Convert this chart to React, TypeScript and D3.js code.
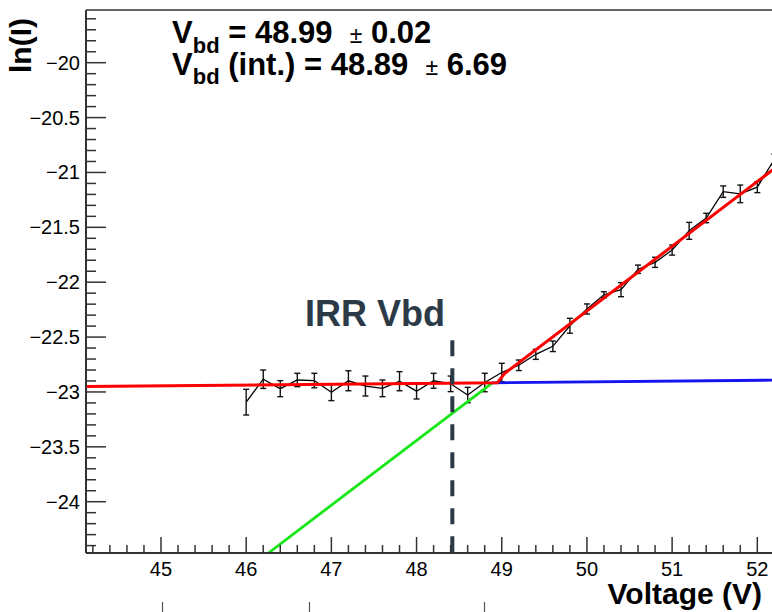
import React from 'react';
import * as d3 from 'd3';

// ---- data ----
const voltage = [46.0, 46.2, 46.4, 46.6, 46.8, 47.0, 47.2, 47.4, 47.6, 47.8, 48.0, 48.2, 48.4, 48.6, 48.8, 49.0, 49.2, 49.4, 49.6, 49.8, 50.0, 50.2, 50.4, 50.6, 50.8, 51.0, 51.2, 51.4, 51.6, 51.8, 52.0, 52.2];
const lnI = [-23.093, -22.884, -22.970, -22.891, -22.896, -23.003, -22.898, -22.946, -22.967, -22.902, -22.993, -22.898, -22.926, -23.028, -22.914, -22.823, -22.757, -22.657, -22.584, -22.397, -22.244, -22.114, -22.068, -21.882, -21.819, -21.707, -21.532, -21.415, -21.175, -21.195, -21.134, -20.882];
const lnIErr = [0.117, 0.084, 0.073, 0.061, 0.066, 0.076, 0.091, 0.091, 0.076, 0.087, 0.071, 0.068, 0.071, 0.070, 0.084, 0.084, 0.048, 0.046, 0.048, 0.068, 0.046, 0.027, 0.064, 0.038, 0.046, 0.046, 0.077, 0.043, 0.052, 0.080, 0.050, 0.050];

// fit parameters (flat pre-breakdown line, linear post-breakdown line)
const flatFit = { a: -22.951, b: 0.00724, v0: 44.12 };
const linFit = { a: -21.007, b: 0.5897, v0: 52.129 };
const vbd = 48.99;
const vbdInt = 48.89;
const irrVbd = 48.42;
const irrLineTop = -22.53;

const xMajorTicks = [45, 46, 47, 48, 49, 50, 51, 52];
const yMajorTicks = [-24, -23.5, -23, -22.5, -22, -21.5, -21, -20.5, -20];
const xMinorStep = 0.2;
const yMinorStep = 0.1;

const vbdText = ['48.99', '0.02'];
const vbdIntText = ['48.89', '6.69'];

const W = 772;
const H = 612;
const L = 86, R = 772, T = 10, B = 553;

const xDomain = [44.1196, 52.1725];
const yDomain = [-24.4674, -19.5198];

const FONT = "'Liberation Sans', Arial, Helvetica, sans-serif";

function flat(v: number) { return flatFit.a + flatFit.b * (v - flatFit.v0); }
function lin(v: number) { return linFit.a + linFit.b * (v - linFit.v0); }
const fmt = (v: number) => (v < 0 ? '\u2212' : '') + Math.abs(v).toString();

export default function App() {
  const x = d3.scaleLinear().domain(xDomain).range([L, R]);
  const y = d3.scaleLinear().domain(yDomain).range([B, T]);

  const xMinor = d3.range(Math.ceil(xDomain[0] / xMinorStep) * xMinorStep, xDomain[1], xMinorStep)
    .filter(v => !xMajorTicks.some(m => Math.abs(m - v) < 1e-6));
  const yMinor = d3.range(Math.ceil(yDomain[0] / yMinorStep) * yMinorStep, yDomain[1], yMinorStep)
    .filter(v => !yMajorTicks.some(m => Math.abs(m - v) < 1e-6));

  const line = d3.line<[number, number]>().x(d => x(d[0])).y(d => y(d[1]));
  const vBottom = linFit.v0 + (yDomain[0] - linFit.a) / linFit.b;

  const redPts: [number, number][] = [
    [xDomain[0], flat(xDomain[0])],
    [vbd - 0.04, flat(vbd - 0.04)],
    [vbd + 0.04, lin(vbd + 0.04)],
    [xDomain[1] + 0.05, lin(xDomain[1] + 0.05)],
  ];
  const bluePts: [number, number][] = [[vbdInt, flat(vbdInt)], [xDomain[1] + 0.05, flat(xDomain[1] + 0.05)]];
  const greenPts: [number, number][] = [[vBottom, lin(vBottom)], [vbdInt, lin(vbdInt)]];
  const dataPts: [number, number][] = voltage.map((v, i) => [v, lnI[i]]);

  return (
    <svg width={W} height={H} style={{ position: 'absolute', left: 0, top: 0, background: '#fff' }} fontFamily={FONT}>
      <defs>
        <clipPath id="frame"><rect x={L} y={T} width={R - L} height={B - T} /></clipPath>
      </defs>
      <rect x={0} y={0} width={W} height={H} fill="#fff" />

      {/* data */}
      <g clipPath="url(#frame)">
        <path d={line(dataPts) || ''} fill="none" stroke="#000" strokeWidth={1.3} />
        {voltage.map((v, i) => {
          const cx = x(v);
          const y1 = y(lnI[i] - lnIErr[i]);
          const y2 = y(lnI[i] + lnIErr[i]);
          return (
            <g key={i} stroke="#111" strokeWidth={1.4}>
              <line x1={cx} x2={cx} y1={y1} y2={y2} />
              <line x1={cx - 3} x2={cx + 3} y1={y1} y2={y1} />
              <line x1={cx - 3} x2={cx + 3} y1={y2} y2={y2} />
            </g>
          );
        })}
        <path d={line(bluePts) || ''} fill="none" stroke="#1414f0" strokeWidth={2.8} />
        <path d={line(greenPts) || ''} fill="none" stroke="#17e617" strokeWidth={2.8} />
        <path d={line(redPts) || ''} fill="none" stroke="#ff0000" strokeWidth={3} />
        <line x1={x(irrVbd)} x2={x(irrVbd)} y1={y(irrLineTop)} y2={B} stroke="#2c3a48" strokeWidth={4} strokeDasharray="16 12" />
      </g>

      {/* frame / axes */}
      <line x1={L} x2={W} y1={T} y2={T} stroke="#666" strokeWidth={2} />
      <line x1={L} x2={L} y1={T} y2={B} stroke="#333" strokeWidth={2} />
      <line x1={L} x2={W} y1={B} y2={B} stroke="#333" strokeWidth={2} />

      {/* x ticks */}
      {xMajorTicks.map(v => (
        <g key={'xM' + v}>
          <line x1={x(v)} x2={x(v)} y1={B} y2={B - 16} stroke="#333" strokeWidth={1.5} />
          <text x={x(v)} y={576} textAnchor="middle" fontSize={20} fill="#000">{fmt(v)}</text>
        </g>
      ))}
      {xMinor.map(v => (
        <line key={'xm' + v} x1={x(v)} x2={x(v)} y1={B} y2={B - 8} stroke="#333" strokeWidth={1.5} />
      ))}

      {/* y ticks */}
      {yMajorTicks.map(v => (
        <g key={'yM' + v}>
          <line x1={L} x2={L + 20} y1={y(v)} y2={y(v)} stroke="#333" strokeWidth={1.5} />
          <text x={80} y={y(v) + 7} textAnchor="end" fontSize={20} fill="#000">{fmt(v)}</text>
        </g>
      ))}
      {yMinor.map(v => (
        <line key={'ym' + v} x1={L} x2={L + 10} y1={y(v)} y2={y(v)} stroke="#333" strokeWidth={1.5} />
      ))}

      {/* axis titles */}
      <text x={762} y={604} textAnchor="end" fontSize={30} fontWeight="bold" fill="#000">Voltage (V)</text>
      <text transform="translate(30.5,18) rotate(-90)" textAnchor="end" fontSize={30} fontWeight="bold" fill="#000">ln(I)</text>

      {/* annotation */}
      <text x={172} y={43} fontSize={31} fontWeight="bold" fill="#000" style={{ whiteSpace: 'pre' }}>
        V<tspan dy={9.5} fontSize={22}>bd</tspan><tspan dy={-9.5}>{' = ' + vbdText[0] + '  '}</tspan><tspan fontWeight="normal" fontSize={23}>±</tspan><tspan>{' ' + vbdText[1]}</tspan>
      </text>
      <text x={172} y={74.5} fontSize={31} fontWeight="bold" fill="#000" style={{ whiteSpace: 'pre' }}>
        V<tspan dy={9.5} fontSize={22}>bd</tspan><tspan dy={-9.5}>{' (int.) = ' + vbdIntText[0] + '  '}</tspan><tspan fontWeight="normal" fontSize={23}>±</tspan><tspan>{' ' + vbdIntText[1]}</tspan>
      </text>

      <text x={375} y={326} textAnchor="middle" fontSize={36} fontWeight="bold" fill="#2c3a48">IRR Vbd</text>

      {/* stray ticks at bottom edge */}
      {[162.5, 309.5, 484.5].map(px => (
        <line key={'s' + px} x1={px} x2={px} y1={602} y2={612} stroke="#555" strokeWidth={1.2} />
      ))}
    </svg>
  );
}
